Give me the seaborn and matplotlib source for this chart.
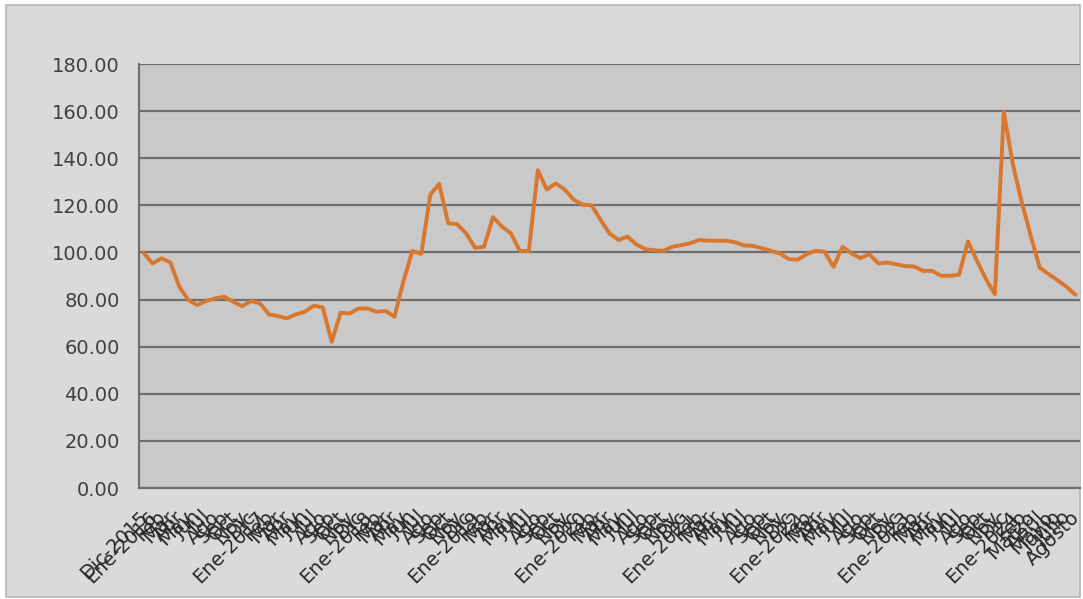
import numpy as np
import pandas as pd
import seaborn as sns
import matplotlib.pyplot as plt
import matplotlib.transforms as mtransforms
from matplotlib.patches import Rectangle

# etiquetas de meses (Dic-2015 a Agosto-2024)
meses_cortos = ['Ene', 'Feb', 'Mar', 'Abr', 'May', 'Jun', 'Jul', 'Ago', 'Sep', 'Oct', 'Nov', 'Dic']
meses_2024 = ['Ene-2024', 'Feb', 'Marzo', 'Abril', 'Mayo', 'Junio', 'Julio', 'Agosto']

etiquetas = ['Dic-2015']
for anio in range(2016, 2024):
    etiquetas += [f'Ene-{anio}'] + meses_cortos[1:]
etiquetas += meses_2024

valores = [
    100.0, 95.3, 97.5, 95.8, 85.4, 79.8, 77.7, 79.4, 80.5, 81.2,
    79.1, 77.2, 79.4, 78.4, 73.7, 73.0, 72.0, 73.7, 74.8, 77.4,
    76.7, 62.1, 74.4, 74.1, 76.2, 76.2, 74.8, 75.2, 72.7, 87.6,
    100.6, 99.4, 124.5, 129.1, 112.4, 112.0, 108.1, 102.0, 102.4, 115.0,
    111.0, 108.1, 100.6, 100.6, 134.9, 126.7, 129.3, 126.7, 122.4, 120.3,
    120.0, 113.9, 108.1, 105.3, 106.7, 103.4, 101.4, 100.9, 100.7, 102.4,
    103.1, 103.9, 105.3, 105.0, 105.0, 105.0, 104.3, 103.0, 102.8, 101.8,
    100.7, 99.6, 97.2, 96.9, 99.3, 100.7, 100.3, 93.9, 102.4, 99.6,
    97.6, 99.3, 95.3, 95.7, 95.0, 94.2, 94.0, 92.2, 92.2, 90.1,
    90.1, 90.5, 104.7, 96.5, 88.7, 82.3, 159.6, 137.6, 121.3, 107.1,
    93.6, 90.8, 88.2, 85.4, 82.0,
]

yticks = [0, 20, 40, 60, 80, 100, 120, 140, 160, 180]

df = pd.DataFrame({'pos': np.arange(len(valores)), 'valor': valores})

sns.set_style('white')
plt.rcParams['font.family'] = ['DejaVu Sans']

fig = plt.figure(figsize=(10.83, 5.99), dpi=100)
fig.patch.set_facecolor('white')
fig.patches.append(Rectangle((6 / 1083, 2 / 599), 1074 / 1083, 592 / 599,
                             transform=fig.transFigure, facecolor='#dadada',
                             edgecolor='#b4b4b4', linewidth=1.2, zorder=-10))

ax = fig.add_axes([139 / 1083, (599 - 488) / 599, 941 / 1083, 424 / 599])
ax.set_facecolor('#c9c9c9')

sns.lineplot(data=df, x='pos', y='valor', ax=ax, color='#d9772e', linewidth=2.8)

ax.set_xlim(-0.5, len(valores) - 0.5)
ax.set_ylim(0, 180)
ax.set_yticks(yticks)
ax.set_yticklabels([f'{v:.2f}' for v in yticks])
ax.yaxis.grid(True, color='#6e6e6e', linewidth=1.6)
ax.set_axisbelow(True)

ax.set_xticks(np.arange(len(valores)))
ax.set_xticklabels(etiquetas, rotation=45, ha='right', rotation_mode='anchor')
ax.set_xticks(np.arange(len(valores) + 1) - 0.5, minor=True)
ax.tick_params(axis='x', which='major', length=0, pad=14, labelsize=14, labelcolor='#2a2a2a')
ax.tick_params(axis='x', which='minor', length=6, width=1.2, color='#707070', direction='out')
ax.tick_params(axis='y', length=10, width=1.4, color='#707070', labelsize=14,
               labelcolor='#404040', pad=4)

# desplazar las etiquetas del eje x un poco a la izquierda
desplazamiento = mtransforms.ScaledTranslation(-5 / 100, 0, fig.dpi_scale_trans)
for etiqueta in ax.get_xticklabels():
    etiqueta.set_transform(etiqueta.get_transform() + desplazamiento)

for lado in ['top', 'right']:
    ax.spines[lado].set_visible(False)
for lado in ['left', 'bottom']:
    ax.spines[lado].set_color('#6e6e6e')
    ax.spines[lado].set_linewidth(1.6)

ax.set_xlabel('')
ax.set_ylabel('')

fig.savefig('out.png', dpi=100, facecolor=fig.get_facecolor())
